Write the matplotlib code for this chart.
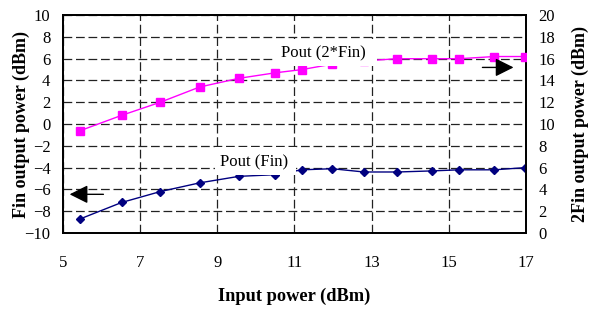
import matplotlib
matplotlib.use('Agg')
import matplotlib.pyplot as plt
from matplotlib.patches import Rectangle

plt.rcParams['font.family'] = ['Liberation Serif', 'DejaVu Serif']

# Input power (dBm)
pin = [5.45, 6.52, 7.52, 8.54, 9.56, 10.49, 11.19, 11.98, 12.8, 13.67, 14.57, 15.27, 16.18, 16.98]
# Fundamental output power (left axis, dBm)
pout_fin = [-8.7, -7.2, -6.2, -5.4, -4.8, -4.65, -4.2, -4.1, -4.4, -4.4, -4.3, -4.2, -4.2, -4.0]
# Second harmonic output power (right axis, dBm)
pout_2fin = [9.4, 10.8, 12.0, 13.4, 14.2, 14.7, 15.0, 15.5, 15.8, 16.0, 16.0, 16.0, 16.2, 16.2]

xticks = [5, 7, 9, 11, 13, 15, 17]
left_ticks = list(range(-10, 11, 2))
right_ticks = list(range(0, 21, 2))

fig = plt.figure(figsize=(5.97, 3.09), dpi=100)
ax = fig.add_axes([0.1055, 0.246, 0.7755, 0.705])
ax2 = ax.twinx()

ax.plot(pin, pout_fin, color='#000080', lw=1.0, marker='D', ms=4.5, zorder=3)
ax2.plot(pin, pout_2fin, color='#ff00ff', lw=1.0, marker='s', ms=5.5, zorder=3)

ax.set_xlim(5, 17)
ax.set_ylim(-10, 10)
ax2.set_ylim(0, 20)
ax.set_xticks(xticks)
ax.set_yticks(left_ticks)
ax2.set_yticks(right_ticks)

# dashed grid
ax.grid(True, color='#222222', lw=0.9, linestyle=(0, (7, 3)))
ax.set_axisbelow(True)

ax.tick_params(axis='x', length=0, pad=16, labelsize=12)
ax.tick_params(axis='y', length=0, pad=9, labelsize=12)
ax2.tick_params(axis='y', length=0, pad=9, labelsize=12)

for sp in ax.spines.values():
    sp.set_linewidth(1.3)
for sp in ax2.spines.values():
    sp.set_linewidth(1.3)

ax.set_xlabel('Input power (dBm)', fontsize=13.2, fontweight='bold', labelpad=12)
ax.set_ylabel('Fin output power (dBm)', fontsize=13, fontweight='bold')
ax2.set_ylabel('2Fin output power (dBm)', fontsize=13, fontweight='bold', rotation=90)
ax.yaxis.set_label_coords(-0.071, 0.5)
ax2.yaxis.set_label_coords(1.099, 0.5)

# white label boxes (Excel-style data labels, a bit taller than the text)
ax2.add_patch(Rectangle((0.458, 0.766), 0.22, 0.124, transform=ax2.transAxes,
                        facecolor='white', edgecolor='none', zorder=4))
ax2.add_patch(Rectangle((0.328, 0.266), 0.175, 0.128, transform=ax2.transAxes,
                        facecolor='white', edgecolor='none', zorder=4))
ax2.text(11.75, 16.5, 'Pout (2*Fin)', fontsize=12, ha='center', va='center', zorder=5)
ax2.text(9.94, 6.5, 'Pout (Fin)', fontsize=12, ha='center', va='center', zorder=5)

# arrows pointing to the matching axis
ax.annotate('', xy=(5.1, -6.45), xytext=(6.12, -6.45),
            arrowprops=dict(arrowstyle='-|>', color='black', lw=1.0, mutation_scale=28))
ax2.annotate('', xy=(16.75, 15.2), xytext=(15.8, 15.2),
             arrowprops=dict(arrowstyle='-|>', color='black', lw=1.0, mutation_scale=28))

fig.savefig('out.png', dpi=100)
